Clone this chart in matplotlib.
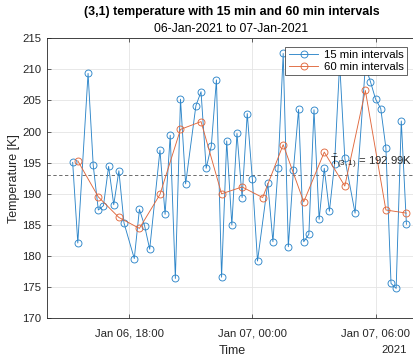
import numpy as np
import matplotlib
matplotlib.use("Agg")
import matplotlib.pyplot as plt

plt.rcParams.update({
    "font.family": ["Liberation Sans", "DejaVu Sans"],
    "mathtext.fontset": "custom",
    "mathtext.rm": "Liberation Sans",
    "mathtext.it": "Liberation Sans",
    "font.size": 8.2,
})

# 15 min samples (some slots missing in the logger output)
t15 = [
    "2021-01-06T15:15", "2021-01-06T15:30", "2021-01-06T16:00", "2021-01-06T16:15",
    "2021-01-06T16:30", "2021-01-06T16:45", "2021-01-06T17:00", "2021-01-06T17:15",
    "2021-01-06T17:30", "2021-01-06T17:45", "2021-01-06T18:15", "2021-01-06T18:30",
    "2021-01-06T18:45", "2021-01-06T19:00", "2021-01-06T19:30", "2021-01-06T19:45",
    "2021-01-06T20:00", "2021-01-06T20:15", "2021-01-06T20:30", "2021-01-06T20:45",
    "2021-01-06T21:15", "2021-01-06T21:30", "2021-01-06T21:45", "2021-01-06T22:00",
    "2021-01-06T22:15", "2021-01-06T22:30", "2021-01-06T22:45", "2021-01-06T23:00",
    "2021-01-06T23:15", "2021-01-06T23:30", "2021-01-06T23:45", "2021-01-07T00:00",
    "2021-01-07T00:15", "2021-01-07T00:45", "2021-01-07T01:00", "2021-01-07T01:15",
    "2021-01-07T01:30", "2021-01-07T01:45", "2021-01-07T02:00", "2021-01-07T02:15",
    "2021-01-07T02:30", "2021-01-07T02:45", "2021-01-07T03:00", "2021-01-07T03:15",
    "2021-01-07T03:30", "2021-01-07T03:45", "2021-01-07T04:00", "2021-01-07T04:15",
    "2021-01-07T04:30", "2021-01-07T05:00", "2021-01-07T05:30", "2021-01-07T05:45",
    "2021-01-07T06:00", "2021-01-07T06:15", "2021-01-07T06:30", "2021-01-07T06:45",
    "2021-01-07T07:00", "2021-01-07T07:15", "2021-01-07T07:30",
]
temp15 = [
    195.05, 182.1, 209.35, 194.6, 187.4, 188.1, 194.4, 188.25,
    193.7, 185.3, 179.6, 187.5, 184.9, 181.1, 197.0, 186.7,
    199.4, 176.4, 205.2, 191.6, 204.15, 206.4, 194.1, 197.7,
    208.3, 176.6, 198.5, 185.0, 199.7, 189.4, 202.9, 192.3,
    179.2, 191.7, 182.3, 194.1, 212.55, 181.5, 193.9, 203.55,
    182.3, 183.5, 203.5, 185.9, 194.1, 187.2, 194.8, 211.0,
    195.7, 186.9, 210.5, 208.0, 205.2, 203.7, 197.4, 175.6,
    174.8, 201.7, 185.1,
]

# hourly samples
t60 = [
    "2021-01-06T15:30", "2021-01-06T16:30", "2021-01-06T17:30", "2021-01-06T18:30",
    "2021-01-06T19:30", "2021-01-06T20:30", "2021-01-06T21:30", "2021-01-06T22:30",
    "2021-01-06T23:30", "2021-01-07T00:30", "2021-01-07T01:30", "2021-01-07T02:30",
    "2021-01-07T03:30", "2021-01-07T04:30", "2021-01-07T05:30", "2021-01-07T06:30",
    "2021-01-07T07:30",
]
temp60 = [
    195.3, 189.5, 186.2, 184.45, 189.9, 200.35, 201.6, 190.0,
    191.1, 189.4, 197.9, 188.7, 196.7, 191.25, 206.6, 187.4,
    186.9,
]

mean_temp = 192.99
xticks = ["2021-01-06T18:00", "2021-01-07T00:00", "2021-01-07T06:00"]
xtick_labels = ["Jan 06, 18:00", "Jan 07, 00:00", "Jan 07, 06:00"]
yticks = np.arange(170, 216, 5)

BLUE = "#2e86c9"
ORANGE = "#e0683d"
DARK = "#262626"

t15 = np.array(t15, dtype="datetime64[m]")
t60 = np.array(t60, dtype="datetime64[m]")

fig = plt.figure(figsize=(4.14, 3.57), dpi=100)
ax = fig.add_axes([0.1135, 0.1084, 0.893, 0.7846])

ax.plot(t15, temp15, "-o", color=BLUE, lw=0.65, ms=5, mfc="none", mew=0.65,
        label="15 min intervals", zorder=3)
ax.plot(t60, temp60, "-o", color=ORANGE, lw=0.65, ms=5, mfc="none", mew=0.65,
        label="60 min intervals", zorder=3)

ax.axhline(mean_temp, color="#555555", lw=0.6, ls=(0, (4, 3)), zorder=2)
ax.text(np.datetime64("2021-01-07T07:48"), mean_temp + 0.6,
        r"$\bar{T}_{(3,1)}$ = 192.99K", ha="right", va="bottom",
        fontsize=8.2, color=DARK, zorder=4)

ax.set_xlim(np.datetime64("2021-01-06T14:00"), np.datetime64("2021-01-07T08:00"))
ax.set_ylim(170, 215)
ax.set_xticks(np.array(xticks, dtype="datetime64[m]"))
ax.set_xticklabels(xtick_labels)
ax.set_yticks(yticks)

ax.grid(True, color="#e4e4e4", lw=0.6)
ax.set_axisbelow(True)
for s in ax.spines.values():
    s.set_color(DARK)
    s.set_linewidth(0.6)
ax.tick_params(direction="in", length=3, width=0.5, color=DARK, labelcolor=DARK,
               top=True, right=True)
ax.tick_params(axis="x", pad=7)
ax.tick_params(axis="y", pad=4)

ax.set_ylabel("Temperature [K]", fontsize=9, color=DARK, labelpad=2)
ax.set_xlabel("Time", fontsize=9, color=DARK, labelpad=5)

fig.text(0.983, 0.005, "2021", ha="right", va="bottom", fontsize=8.2, color=DARK)
fig.text(0.559, 0.966, "(3,1) temperature with 15 min and 60 min intervals",
         ha="center", va="center", fontsize=8.9, fontweight="bold", color="black")
fig.text(0.559, 0.918, "06-Jan-2021 to 07-Jan-2021", ha="center", va="center",
         fontsize=8.8, color="black")

leg = ax.legend(loc="upper right", bbox_to_anchor=(0.975, 0.97), fontsize=8.2,
                fancybox=False, framealpha=1, edgecolor="#262626",
                borderpad=0.3, handlelength=2.6, handletextpad=0.5,
                labelspacing=0.15, borderaxespad=0)
leg.get_frame().set_linewidth(0.5)

fig.savefig("out.png", dpi=100)
